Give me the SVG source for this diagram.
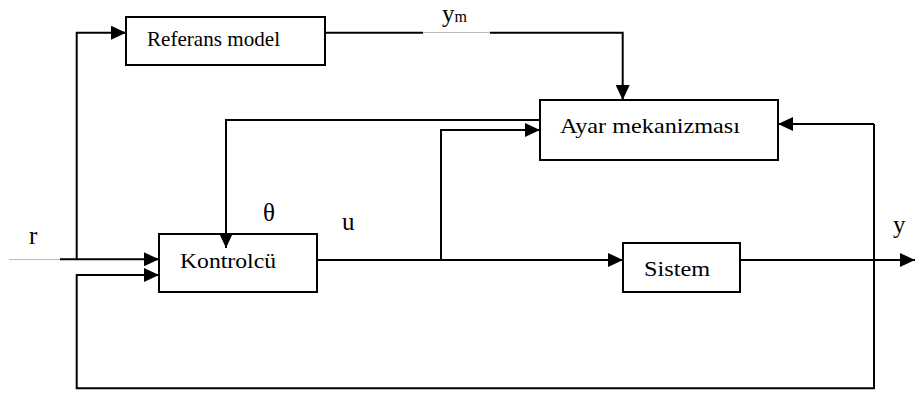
<svg xmlns="http://www.w3.org/2000/svg" width="915" height="393" viewBox="0 0 915 393">
<style>
.box{fill:#fff;stroke:#000;stroke-width:2}
.ln{fill:none;stroke:#000;stroke-width:2}
.thin{fill:none;stroke:#bbb;stroke-width:1}
text{font-family:"Liberation Serif","Times New Roman",serif;fill:#000}
.lbl{font-size:21px}
.sym{font-size:25px}
</style>
<defs>
<marker id="ah" markerWidth="15" markerHeight="14" refX="15" refY="7" orient="auto" markerUnits="userSpaceOnUse">
<path d="M0,0 L15,7 L0,14 Z" fill="#000"/>
</marker>
</defs>
<rect width="915" height="393" fill="#fff"/>
<g id="referans">
<rect class="box" x="126" y="17" width="199" height="48"/>
<text class="lbl" x="147" y="46" textLength="133" lengthAdjust="spacingAndGlyphs">Referans model</text>
</g>
<g id="ayar">
<rect class="box" x="540" y="100" width="238" height="60"/>
<text class="lbl" x="560" y="133" textLength="180" lengthAdjust="spacingAndGlyphs">Ayar mekanizması</text>
</g>
<g id="kontrolcu">
<rect class="box" x="159" y="234" width="158" height="58"/>
<text class="lbl" x="180" y="268" textLength="96" lengthAdjust="spacingAndGlyphs">Kontrolcü</text>
</g>
<g id="sistem">
<rect class="box" x="623" y="243" width="117" height="49"/>
<text class="lbl" x="644" y="276" textLength="66" lengthAdjust="spacingAndGlyphs">Sistem</text>
</g>
<g id="connectors">
<path class="ln" d="M325,32.7 H423"/>
<path class="thin" d="M423,32.5 H490"/>
<path class="ln" d="M490,32.7 H622.7 V100" marker-end="url(#ah)"/>
<path class="ln" d="M76.7,259.3 V32.7 H126" marker-end="url(#ah)"/>
<path class="thin" d="M9,259.5 H60"/>
<path class="ln" d="M60,259.3 H159" marker-end="url(#ah)"/>
<path class="ln" d="M874,124 V388.3 H76.7 V275 H159" marker-end="url(#ah)"/>
<path class="ln" d="M874,124 H778" marker-end="url(#ah)"/>
<path class="ln" d="M540,120 H226 V248" marker-end="url(#ah)"/>
<path class="ln" d="M317,260 H623" marker-end="url(#ah)"/>
<path class="ln" d="M441,260 V130 H540" marker-end="url(#ah)"/>
<path class="ln" d="M740,260 H915" marker-end="url(#ah)"/>
</g>
<g id="labels">
<text class="sym" x="442" y="22">y<tspan font-size="16">m</tspan></text>
<text class="sym" x="263" y="221">θ</text>
<text class="sym" x="342" y="230">u</text>
<text class="sym" x="29" y="244">r</text>
<text class="sym" x="893" y="233">y</text>
</g>
</svg>
